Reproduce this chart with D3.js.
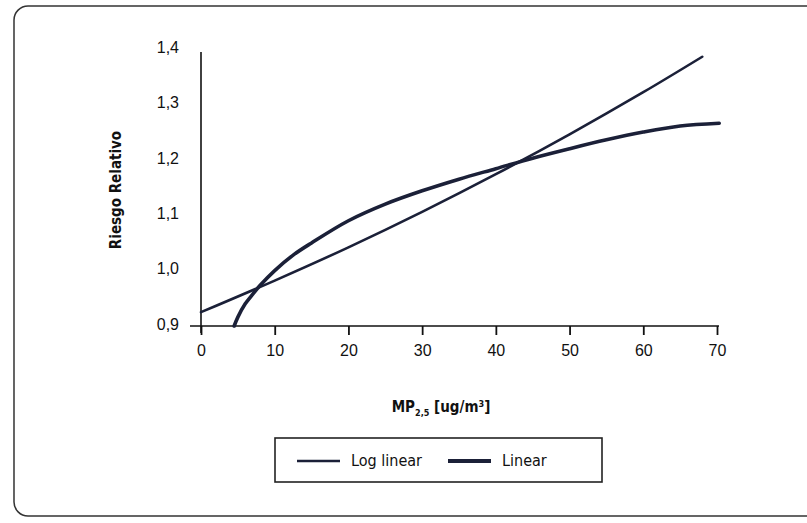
<!DOCTYPE html>
<html lang="es">
<head>
  <meta charset="UTF-8">
  <title>Riesgo Relativo vs MP2,5</title>
  <script src="https://d3js.org/d3.v7.min.js"></script>
  <style>
    body {
      margin: 0;
      background: #fff;
    }
    svg {
      display: block;
      font-family: "DejaVu Sans Condensed", "DejaVu Sans", sans-serif;
      font-stretch: condensed;
    }
    .tick text {
      font-size: 16px;
      fill: #111;
    }
    .axis-title {
      font-size: 15px;
      font-weight: bold;
      fill: #111;
    }
    .legend-label {
      font-size: 16px;
      fill: #111;
    }
  </style>
</head>
<body>
  <svg id="chart"></svg>
  <script>
    // tick values and labels
    const xTicks = [0, 10, 20, 30, 40, 50, 60, 70];
    const yTicks = [0.9, 1.0, 1.1, 1.2, 1.3, 1.4];
    const yTickLabels = ["0,9", "1,0", "1,1", "1,2", "1,3", "1,4"];

    // Log linear curve
    const logLinearX = [0, 10, 20, 30, 40, 50, 60, 68];
    const logLinearRR = [0.925, 0.982, 1.042, 1.106, 1.174, 1.246, 1.322, 1.386];

    // Linear curve
    const linearX = [4.5, 5, 6, 7, 8, 10, 12.5, 15, 20, 25, 30, 35, 40, 45, 50, 55, 60, 65, 70.3];
    const linearRR = [0.900, 0.916, 0.940, 0.957, 0.973, 1.000, 1.028, 1.050, 1.090, 1.120, 1.144, 1.165, 1.184, 1.203, 1.220, 1.236, 1.250, 1.261, 1.266];

    const seriesNames = ["Log linear", "Linear"];

    const W = 807, H = 523;
    const ink = "#1b2038";

    const svg = d3.select("#chart")
      .attr("width", W)
      .attr("height", H);

    // frame round the figure
    svg.append("rect")
      .attr("x", 14)
      .attr("y", 6)
      .attr("width", 820)
      .attr("height", 510)
      .attr("rx", 14)
      .attr("fill", "none")
      .attr("stroke", "#333")
      .attr("stroke-width", 1.5);

    const x = d3.scaleLinear().domain([0, 70]).range([201, 717]);
    const y = d3.scaleLinear().domain([0.9, 1.4]).range([326, 49]);

    // x axis
    const xAxis = svg.append("g")
      .attr("transform", `translate(0, ${y(0.9)})`)
      .call(d3.axisBottom(x).tickValues(xTicks).tickSize(9).tickPadding(10).tickFormat(d3.format("d")));
    xAxis.select(".domain").remove();
    xAxis.selectAll(".tick line").attr("stroke", "#111").attr("stroke-width", 1.8);
    svg.append("line")
      .attr("x1", 190).attr("x2", 719)
      .attr("y1", y(0.9)).attr("y2", y(0.9))
      .attr("stroke", "#111").attr("stroke-width", 1.6);

    // y axis
    const yAxis = svg.append("g")
      .attr("transform", `translate(${x(0)}, 0)`)
      .call(d3.axisLeft(y).tickValues(yTicks).tickSize(0).tickPadding(22)
        .tickFormat((d, i) => yTickLabels[i]));
    yAxis.select(".domain").remove();
    yAxis.selectAll(".tick text").attr("dy", "0.2em");
    svg.append("line")
      .attr("x1", x(0)).attr("x2", x(0))
      .attr("y1", 52).attr("y2", 333)
      .attr("stroke", "#111").attr("stroke-width", 1.6);

    // axis titles
    svg.append("text")
      .attr("class", "axis-title")
      .attr("transform", `translate(121, 190) rotate(-90)`)
      .attr("text-anchor", "middle")
      .text("Riesgo Relativo");

    const xt = svg.append("text")
      .attr("class", "axis-title")
      .attr("x", 441)
      .attr("y", 412)
      .attr("text-anchor", "middle");
    xt.append("tspan").text("MP");
    xt.append("tspan").attr("font-size", "9px").attr("dy", 4).text("2,5");
    xt.append("tspan").attr("dy", -4).text(" [ug/m");
    xt.append("tspan").attr("font-size", "9px").attr("dy", -5).text("3");
    xt.append("tspan").attr("dy", 5).text("]");

    // curves
    const line = d3.line()
      .x(d => x(d[0]))
      .y(d => y(d[1]))
      .curve(d3.curveCatmullRom.alpha(0.5));

    const logLinear = logLinearX.map((v, i) => [v, logLinearRR[i]]);
    const linear = linearX.map((v, i) => [v, linearRR[i]]);

    svg.append("path")
      .datum(logLinear)
      .attr("d", line)
      .attr("fill", "none")
      .attr("stroke", ink)
      .attr("stroke-width", 2.6)
      .attr("stroke-linecap", "round");

    svg.append("path")
      .datum(linear)
      .attr("d", line)
      .attr("fill", "none")
      .attr("stroke", ink)
      .attr("stroke-width", 3.6)
      .attr("stroke-linecap", "round");

    // legend
    const legend = svg.append("g").attr("transform", "translate(275, 438)");
    legend.append("rect")
      .attr("width", 327)
      .attr("height", 44)
      .attr("fill", "none")
      .attr("stroke", "#222")
      .attr("stroke-width", 1.6);

    const legendItems = [
      { name: seriesNames[0], x: 22, w: 2.4 },
      { name: seriesNames[1], x: 173, w: 3.8 }
    ];
    legendItems.forEach(it => {
      legend.append("line")
        .attr("x1", it.x).attr("x2", it.x + 43)
        .attr("y1", 23).attr("y2", 23)
        .attr("stroke", ink)
        .attr("stroke-width", it.w);
      legend.append("text")
        .attr("class", "legend-label")
        .attr("x", it.x + 54)
        .attr("y", 28)
        .text(it.name);
    });
  </script>
</body>
</html>
